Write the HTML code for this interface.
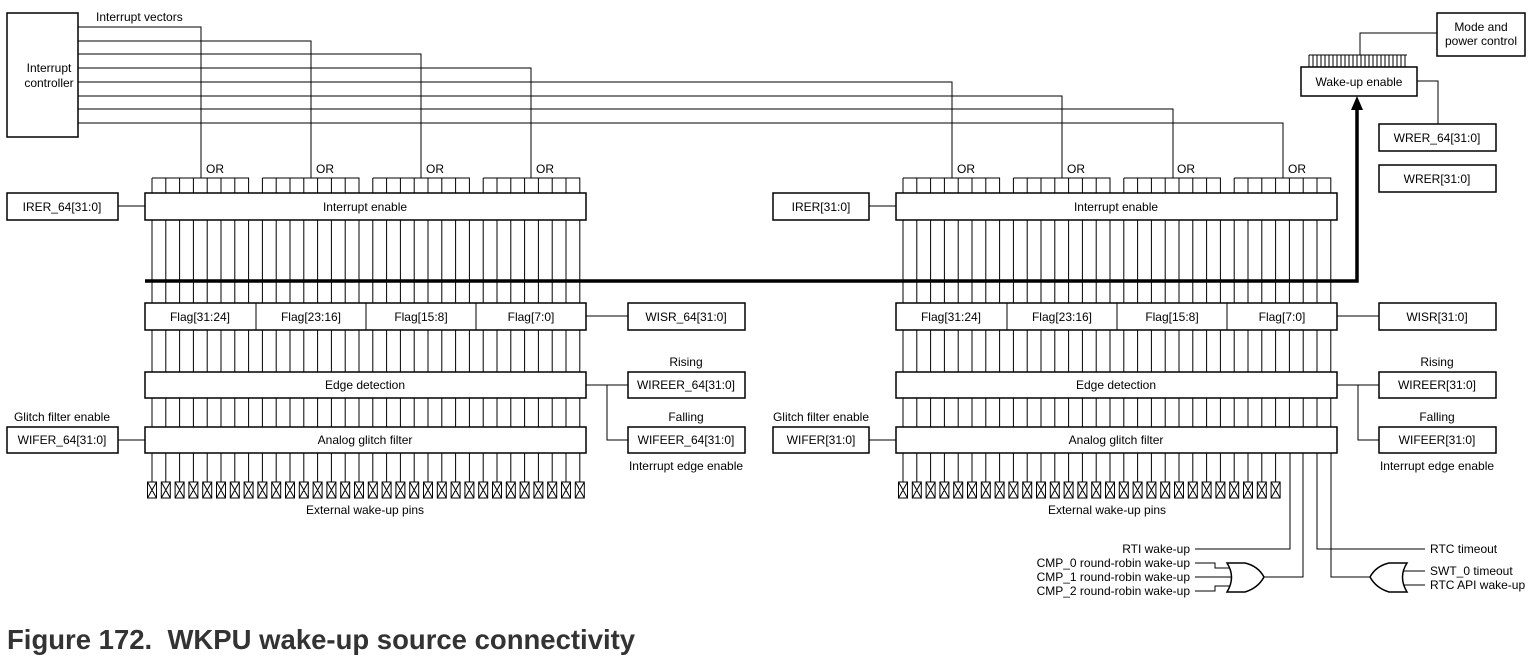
<!DOCTYPE html>
<html><head><meta charset="utf-8"><style>
html,body{margin:0;padding:0;background:#fff;}
svg{display:block}
text{font-family:"Liberation Sans",Arial,sans-serif;font-size:12px;fill:#000}
.c{text-anchor:middle}
.r{text-anchor:end}
</style></head><body>
<svg id="s" width="1534" height="658" viewBox="0 0 1534 658" xmlns="http://www.w3.org/2000/svg">
<g id="g" fill="none" stroke="#000" stroke-width="1"></g>
<g fill="#fff" stroke="#000" stroke-width="1.5">
<rect x="7" y="13" width="71" height="124"/>
<rect x="7" y="193" width="111" height="27"/>
<rect x="145" y="193" width="441" height="27"/>
<rect x="145" y="303" width="441" height="27"/>
<rect x="628" y="303" width="117" height="27"/>
<rect x="145" y="372" width="441" height="26"/>
<rect x="628" y="372" width="117" height="26"/>
<rect x="145" y="427" width="441" height="26"/>
<rect x="7" y="427" width="111" height="26"/>
<rect x="628" y="427" width="117" height="26"/>
<rect x="773" y="193" width="96" height="27"/>
<rect x="896" y="193" width="441" height="27"/>
<rect x="896" y="303" width="441" height="27"/>
<rect x="1379" y="303" width="117" height="27"/>
<rect x="896" y="372" width="441" height="26"/>
<rect x="1379" y="372" width="117" height="26"/>
<rect x="896" y="427" width="441" height="26"/>
<rect x="773" y="427" width="96" height="26"/>
<rect x="1379" y="427" width="117" height="26"/>
<rect x="1301" y="67" width="116" height="29"/>
<rect x="1437" y="13" width="88" height="43"/>
<rect x="1379" y="124" width="117" height="27"/>
<rect x="1379" y="165" width="117" height="27"/>
</g>
<g fill="none" stroke="#000" stroke-width="1">
<path d="M256 303V330M366 303V330M476 303V330M1007 303V330M1117 303V330M1227 303V330"/>
<path d="M118 206H145M118 440H145M586 316H628M586 385H628M607 385V440H628M869 206H896M869 440H896M1337 316H1379M1337 385H1379M1358 385V440H1379"/>
<path d="M1360 55V33H1437M1417 81H1438V124"/>
<path d="M1290 453V549H1195M1317 453V549H1425M1303 453V577H1262M1331 453V577H1371"/>
<path d="M1195 563H1215V568H1231M1195 577H1233M1195 591H1215V586H1231M1404 571H1425M1404 585H1425"/>
</g>
<g fill="#fff" stroke="#000" stroke-width="1.5">
<path d="M1227 563H1245Q1258 566 1264 577Q1258 588 1245 592H1227Q1236 577 1227 563Z"/>
<path d="M1407 563H1389Q1376 566 1370 577Q1376 588 1389 592H1407Q1398 577 1407 563Z"/>
</g>
<path d="M145 281H1357V108" fill="none" stroke="#000" stroke-width="3.5"/>
<path d="M1351 110L1357 96L1363 110Z" fill="#000"/>
<text x="96" y="21">Interrupt vectors</text>
<text class="c" x="49" y="72">Interrupt</text>
<text class="c" x="49" y="87">controller</text>
<text class="c" x="62" y="211">IRER_64[31:0]</text>
<text class="c" x="365" y="211">Interrupt enable</text>
<text class="c" x="200" y="321">Flag[31:24]</text>
<text class="c" x="311" y="321">Flag[23:16]</text>
<text class="c" x="421" y="321">Flag[15:8]</text>
<text class="c" x="531" y="321">Flag[7:0]</text>
<text class="c" x="686" y="321">WISR_64[31:0]</text>
<text class="c" x="686" y="366">Rising</text>
<text class="c" x="365" y="389">Edge detection</text>
<text class="c" x="686" y="389">WIREER_64[31:0]</text>
<text class="c" x="686" y="421">Falling</text>
<text class="c" x="62" y="421">Glitch filter enable</text>
<text class="c" x="62" y="444">WIFER_64[31:0]</text>
<text class="c" x="365" y="444">Analog glitch filter</text>
<text class="c" x="686" y="444">WIFEER_64[31:0]</text>
<text class="c" x="686" y="470">Interrupt edge enable</text>
<text class="c" x="365" y="514">External wake-up pins</text>
<text class="c" x="821" y="211">IRER[31:0]</text>
<text class="c" x="1116" y="211">Interrupt enable</text>
<text class="c" x="951" y="321">Flag[31:24]</text>
<text class="c" x="1062" y="321">Flag[23:16]</text>
<text class="c" x="1172" y="321">Flag[15:8]</text>
<text class="c" x="1282" y="321">Flag[7:0]</text>
<text class="c" x="1437" y="321">WISR[31:0]</text>
<text class="c" x="1437" y="366">Rising</text>
<text class="c" x="1116" y="389">Edge detection</text>
<text class="c" x="1437" y="389">WIREER[31:0]</text>
<text class="c" x="1437" y="421">Falling</text>
<text class="c" x="821" y="421">Glitch filter enable</text>
<text class="c" x="821" y="444">WIFER[31:0]</text>
<text class="c" x="1116" y="444">Analog glitch filter</text>
<text class="c" x="1437" y="444">WIFEER[31:0]</text>
<text class="c" x="1437" y="470">Interrupt edge enable</text>
<text class="c" x="1107" y="514">External wake-up pins</text>
<text class="c" x="1359" y="86">Wake-up enable</text>
<text class="c" x="1481" y="31">Mode and</text>
<text class="c" x="1481" y="45">power control</text>
<text class="c" x="1437" y="142">WRER_64[31:0]</text>
<text class="c" x="1437" y="183">WRER[31:0]</text>
<text class="r" x="1190" y="553">RTI wake-up</text>
<text class="r" x="1190" y="567">CMP_0 round-robin wake-up</text>
<text class="r" x="1190" y="581">CMP_1 round-robin wake-up</text>
<text class="r" x="1190" y="595">CMP_2 round-robin wake-up</text>
<text x="1430" y="553">RTC timeout</text>
<text x="1430" y="575">SWT_0 timeout</text>
<text x="1430" y="589">RTC API wake-up</text>
<text x="206" y="173">OR</text><text x="316" y="173">OR</text><text x="426" y="173">OR</text><text x="536" y="173">OR</text>
<text x="957" y="173">OR</text><text x="1067" y="173">OR</text><text x="1177" y="173">OR</text><text x="1288" y="173">OR</text>
<text x="7" y="649" style="font-size:27.5px;font-weight:bold;fill:#333">Figure 172.&#160;&#160;WKPU wake-up source connectivity</text>
</svg>
<script>
var g=document.getElementById('g'),d='';
function L(s){d+=s;}
var sp=13.8;
[152,903].forEach(function(x0,b){
  for(var i=0;i<32;i++){
    var x=(x0+i*sp).toFixed(1);
    L('M'+x+' 220V303M'+x+' 330V372M'+x+' 398V427');
    var pin=(b==0)||i<28;
    if(pin){L('M'+x+' 453V482');
      var l=(x0+i*sp-4.5).toFixed(1),r=(x0+i*sp+4.5).toFixed(1);
      L('M'+l+' 482H'+r+'V498H'+l+'ZM'+l+' 482L'+r+' 498M'+r+' 482L'+l+' 498');}
  }
  for(var k=0;k<4;k++){
    var a=x0+8*k*sp,e=a+7*sp;
    L('M'+a+' 178H'+e.toFixed(1)+'V193M'+a+' 178V193');
    for(var j=1;j<7;j++){var xx=(a+j*sp).toFixed(1);L('M'+xx+' 178V193');}
  }
});
var ys=[27,41,54,68,82,96,109,123],xs=[201,311,421,531,952,1062,1173,1283];
for(var i=0;i<8;i++)L('M78 '+ys[i]+'H'+xs[i]+'V178');
for(var x=1309;x<=1407;x+=4)L('M'+x+' 55V67');
L('M1309 55H1407');
var p=document.createElementNS('http://www.w3.org/2000/svg','path');p.setAttribute('d',d);g.appendChild(p);
</script>
</body></html>
